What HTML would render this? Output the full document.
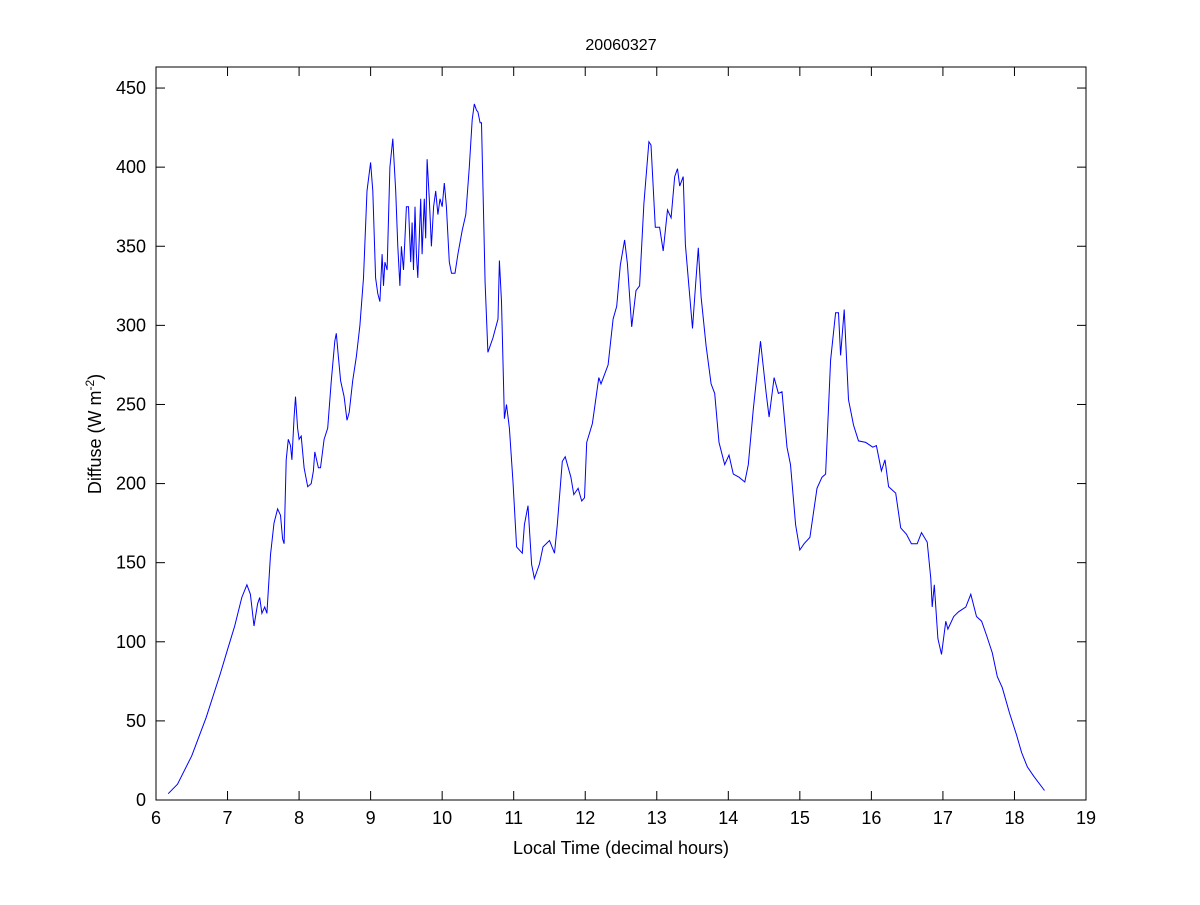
<!DOCTYPE html>
<html><head><meta charset="utf-8"><style>
body{margin:0;background:#fff}
svg text{font-family:"Liberation Sans",Arial,sans-serif;fill:#000}
</style></head><body>
<svg id="chart" width="1200" height="900" xmlns="http://www.w3.org/2000/svg">
<rect width="1200" height="900" fill="#fff"/>
<text x="621" y="50" font-size="16" text-anchor="middle">20060327</text>
<text x="621" y="854" font-size="18" text-anchor="middle">Local Time (decimal hours)</text>
<text transform="translate(101,434) rotate(-90)" font-size="18" text-anchor="middle">Diffuse (W m<tspan dy="-7" font-size="12">-2</tspan><tspan dy="7">)</tspan></text>
<g id="axes"></g>
<path id="series" fill="none" stroke="#0000ff" stroke-width="1"/>
<rect x="156" y="67" width="930" height="733" fill="none" stroke="#000" stroke-width="1"/>
</svg>
<script>
const hours=[6.17,6.3,6.5,6.7,6.9,7.0,7.1,7.2,7.27,7.32,7.37,7.42,7.45,7.48,7.52,7.55,7.6,7.65,7.7,7.74,7.77,7.79,7.82,7.85,7.88,7.9,7.93,7.95,7.98,8.0,8.03,8.07,8.12,8.17,8.2,8.22,8.27,8.3,8.35,8.4,8.45,8.5,8.52,8.55,8.58,8.63,8.67,8.7,8.75,8.8,8.85,8.9,8.95,9.0,9.03,9.07,9.1,9.13,9.16,9.18,9.2,9.23,9.27,9.31,9.35,9.38,9.41,9.43,9.46,9.5,9.53,9.56,9.58,9.6,9.62,9.64,9.66,9.7,9.72,9.75,9.77,9.79,9.82,9.85,9.88,9.91,9.94,9.97,10.0,10.03,10.06,10.1,10.13,10.18,10.22,10.28,10.33,10.38,10.42,10.45,10.48,10.5,10.53,10.55,10.6,10.64,10.71,10.78,10.8,10.83,10.87,10.9,10.94,10.99,11.04,11.12,11.15,11.2,11.25,11.29,11.36,11.41,11.5,11.57,11.61,11.68,11.72,11.8,11.84,11.9,11.95,11.99,12.02,12.1,12.19,12.22,12.32,12.39,12.44,12.49,12.55,12.59,12.65,12.71,12.76,12.82,12.89,12.92,12.98,13.04,13.09,13.15,13.2,13.25,13.29,13.32,13.37,13.4,13.45,13.5,13.54,13.58,13.62,13.69,13.76,13.81,13.87,13.95,14.01,14.07,14.15,14.23,14.28,14.35,14.45,14.53,14.57,14.64,14.7,14.75,14.82,14.87,14.94,15.0,15.06,15.14,15.24,15.31,15.36,15.43,15.5,15.54,15.57,15.62,15.68,15.75,15.82,15.92,16.02,16.07,16.14,16.19,16.24,16.34,16.41,16.49,16.56,16.64,16.7,16.78,16.83,16.85,16.88,16.93,16.98,17.04,17.07,17.15,17.22,17.32,17.39,17.47,17.54,17.61,17.69,17.76,17.83,17.93,18.03,18.1,18.18,18.27,18.42];
const diffuse=[4,10,28,52,80,95,110,128,136,130,110,124,128,118,122,118,155,175,184,180,165,162,215,228,224,215,242,255,235,228,230,210,198,200,208,220,210,210,228,235,265,290,295,280,265,255,240,245,265,280,300,330,385,403,385,330,320,315,345,325,340,335,400,418,385,350,325,350,335,375,375,340,365,335,375,345,330,380,345,380,355,405,380,350,375,385,370,380,375,390,375,340,333,333,345,360,370,400,430,440,436,435,428,428,327,283,292,304,341,315,241,250,235,201,160,156,174,186,149,140,149,160,164,156,174,214,217,204,193,197,189,191,226,238,267,263,275,304,312,338,354,339,299,322,325,377,416,414,362,362,347,373,368,394,399,388,394,351,324,298,324,349,318,287,263,257,226,212,218,206,204,201,212,247,290,257,242,267,257,258,223,212,174,158,162,166,197,204,206,278,308,308,281,310,253,237,227,226,223,224,208,215,198,194,172,168,162,162,169,163,140,122,136,102,92,113,108,116,119,122,130,116,113,104,93,78,71,55,41,30,21,15,6];
const xTicks=[6,7,8,9,10,11,12,13,14,15,16,17,18,19];
const yTicks=[0,50,100,150,200,250,300,350,400,450];
const X0=156,X1=1086,Y0=800,Y1=67,XMIN=6,XMAX=19,YMIN=0,YMAX=463.3;
function xs(v){return X0+(v-XMIN)/(XMAX-XMIN)*(X1-X0);}
function ys(v){return Y0-(v-YMIN)/(YMAX-YMIN)*(Y0-Y1);}
const NS="http://www.w3.org/2000/svg";
const g=document.getElementById('axes');
function mk(t,a){const e=document.createElementNS(NS,t);for(const k in a)e.setAttribute(k,a[k]);g.appendChild(e);return e;}
xTicks.forEach(t=>{
  const x=xs(t);
  const a=mk('line',{x1:x,x2:x,y1:Y0,y2:Y0-9,stroke:'#000'});
  
  
  const b=mk('line',{x1:x,x2:x,y1:Y1,y2:Y1+9,stroke:'#000'});
  
  
  const l=mk('text',{x:x,y:Y0+24,'font-size':18,'text-anchor':'middle'});
  l.textContent=t;
  
  
});
yTicks.forEach(t=>{
  const y=ys(t);
  const a=mk('line',{x1:X0,x2:X0+9,y1:y,y2:y,stroke:'#000'});
  
  
  const b=mk('line',{x1:X1,x2:X1-9,y1:y,y2:y,stroke:'#000'});
  
  
  const l=mk('text',{x:X0-10,y:y+6,'font-size':18,'text-anchor':'end'});
  l.textContent=t;
  
  
});
let d='';
hours.forEach((h,i)=>{d+=(i?'L':'M')+xs(h).toFixed(1)+' '+ys(diffuse[i]).toFixed(1);});
document.getElementById('series').setAttribute('d',d);
</script>
</body></html>
